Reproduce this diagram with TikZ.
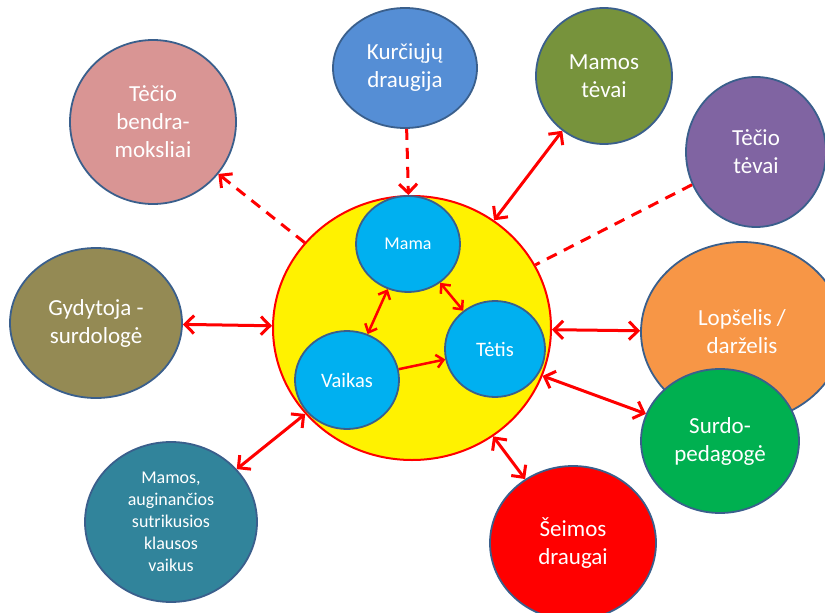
\documentclass[tikz,border=0pt]{standalone}
\usepackage{fontspec}
\setmainfont{Carlito}
\usetikzlibrary{shapes.geometric,arrows.meta}

\definecolor{rim}{HTML}{3A5F8C}
\definecolor{pinkish}{HTML}{D99594}
\definecolor{deafblue}{HTML}{558ED5}
\definecolor{olive}{HTML}{77933C}
\definecolor{violet}{HTML}{8064A2}
\definecolor{khaki}{HTML}{948A54}
\definecolor{orangey}{HTML}{F79646}
\definecolor{greeny}{HTML}{00B050}
\definecolor{teal}{HTML}{31849B}
\definecolor{sky}{HTML}{00B0F0}

\begin{document}
\begin{tikzpicture}[x=1pt,y=-1pt,
  bubble/.style={ellipse,draw=rim,line width=1.8pt,inner sep=0pt,text=white,
    align=center,font=\fontsize{23}{28}\selectfont},
  inner/.style={bubble,fill=sky,font=\fontsize{20.5}{24}\selectfont},
  link/.style={red,line width=3pt},
  both/.style={link,{Straight Barb[length=9pt,width=18pt]}-{Straight Barb[length=9pt,width=18pt]}},
  dashlink/.style={link,dash pattern=on 11pt off 8pt},
  small/.style={red,line width=2.5pt,{Straight Barb[length=7pt,width=13pt]}-{Straight Barb[length=7pt,width=13pt]}}]
  \useasboundingbox (0,0) rectangle (825,613);

  % family in the middle
  \node[ellipse,draw=red,line width=2pt,fill=yellow,minimum width=278pt,minimum height=264pt] (family) at (412,328) {};
  \node[inner,minimum width=104pt,minimum height=96pt,font=\fontsize{18}{22}\selectfont] (mama) at (408,244) {Mama};
  \node[inner,minimum width=100pt,minimum height=96pt] (tetis) at (495,349) {Tėtis};
  \node[inner,minimum width=104pt,minimum height=98pt] (vaikas) at (347,380) {Vaikas};

  % surroundings
  \node[bubble,fill=pinkish,minimum width=166pt,minimum height=164pt] (bendra) at (153,122) {Tėčio\\bendra-\\moksliai};
  \node[bubble,fill=deafblue,minimum width=144pt,minimum height=120pt] (kurtieji) at (405,68) {Kurčiųjų\\draugija};
  \node[bubble,fill=olive,minimum width=136pt,minimum height=136pt] (mamostevai) at (604,76) {Mamos\\tėvai};
  \node[bubble,fill=violet,minimum width=140pt,minimum height=150pt] (teciotevai) at (756,152) {Tėčio\\tėvai};
  \node[bubble,fill=khaki,minimum width=172pt,minimum height=150pt] (gydytoja) at (96,323) {Gydytoja -\\surdologė};
  \node[bubble,fill=orangey,minimum width=202pt,minimum height=180pt] (darzelis) at (742,332) {Lopšelis /\\darželis};
  \node[bubble,fill=greeny,minimum width=158pt,minimum height=144pt] (surdo) at (720,441) {Surdo-\\pedagogė};
  \node[bubble,fill=red,minimum width=166pt,minimum height=154pt] (draugai) at (573,543) {Šeimos\\draugai};
  \node[bubble,fill=teal,minimum width=172pt,minimum height=160pt,font=\fontsize{18}{22}\selectfont] (mamos) at (171,522) {Mamos,\\auginančios\\sutrikusios\\klausos\\vaikus};

  % links
  \draw[dashlink,-{Straight Barb[length=9pt,width=18pt]}] (kurtieji) -- (family);
  \draw[dashlink,-{Straight Barb[length=9pt,width=18pt]}] (family) -- (bendra);
  \draw[dashlink] (teciotevai) -- (family);
  \draw[both] (family) -- (mamostevai);
  \draw[both] (family) -- (gydytoja);
  \draw[both] (family) -- (darzelis);
  \draw[both] (family) -- (surdo);
  \draw[both] (family) -- (draugai);
  \draw[both] (family) -- (mamos);
  \draw[small] (mama) -- (vaikas);
  \draw[small] (mama) -- (tetis);
  \draw[small,-{Straight Barb[length=7pt,width=13pt]}] (vaikas) -- (tetis);
\end{tikzpicture}
\end{document}
